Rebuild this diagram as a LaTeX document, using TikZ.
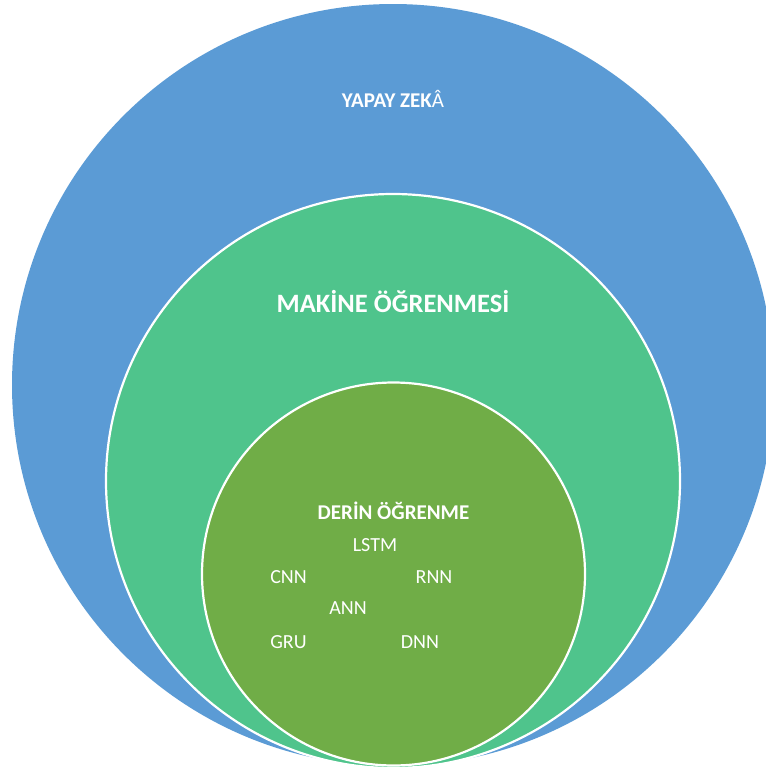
\documentclass[tikz,border=0pt]{standalone}
\usepackage{fontspec}
\setmainfont{Carlito}
\definecolor{aiblue}{HTML}{5B9BD5}
\definecolor{mlgreen}{HTML}{4FC48C}
\definecolor{dlgreen}{HTML}{70AD47}
\begin{document}
\begin{tikzpicture}[x=1pt,y=-1pt,
  ring/.style={circle,draw=white,line width=2.2pt,inner sep=0pt},
  title/.style={text=white,font=\bfseries,inner sep=0pt,anchor=center},
  model/.style={text=white,font=\fontsize{20}{24}\selectfont,inner sep=0pt,anchor=center}]
\useasboundingbox (0,0) rectangle (766,769);
\clip (0,0) rectangle (766,769);
% nested sets
\node[circle,fill=aiblue,inner sep=0pt,minimum size=762pt] (ai) at (393,385) {};
\node[ring,fill=mlgreen,minimum size=574pt] (ml) at (393,481) {};
\node[ring,fill=dlgreen,minimum size=383pt] (dl) at (393.5,574) {};
% set titles
\node[title,font=\fontsize{21}{25}\selectfont\bfseries] (aititle) at (393,99) {YAPAY ZEK{\mdseries Â}};
\node[title,font=\fontsize{26.5}{31}\selectfont\bfseries] (mltitle) at (393,302) {MAKİNE ÖĞRENMESİ};
\node[title,font=\fontsize{21}{25}\selectfont\bfseries] (dltitle) at (393.5,511) {DERİN ÖĞRENME};
% deep learning models
\node[model] (lstm) at (375,545) {LSTM};
\node[model] (cnn) at (288.5,577) {CNN};
\node[model] (rnn) at (434,577) {RNN};
\node[model] (ann) at (348,608) {ANN};
\node[model] (gru) at (288.5,642) {GRU};
\node[model] (dnn) at (420,642) {DNN};
\end{tikzpicture}
\end{document}
